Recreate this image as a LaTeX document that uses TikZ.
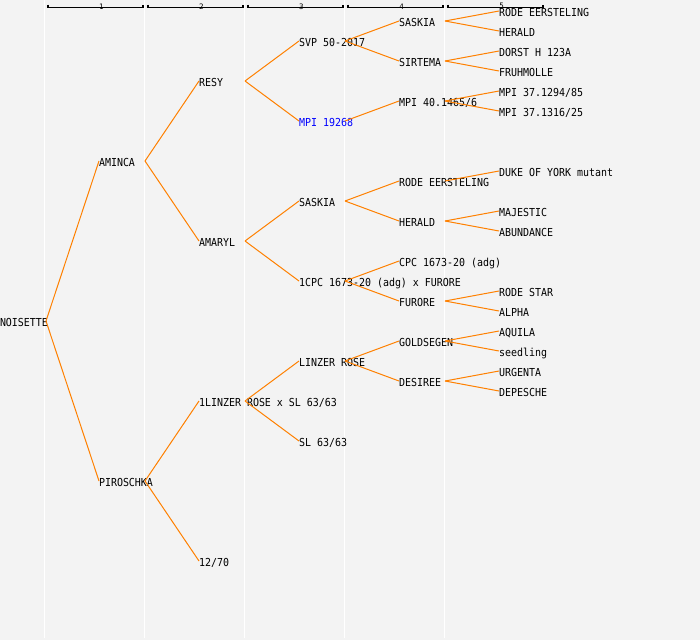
\documentclass[tikz,border=0pt]{standalone}
\usepackage{fontspec}
\newfontfamily\monof[FakeStretch=0.906]{DejaVu Sans Mono}
\newfontfamily\monosmall{DejaVu Sans Mono}
\definecolor{bgc}{RGB}{243,243,243}
\definecolor{edgec}{RGB}{255,128,0}
\definecolor{bluec}{RGB}{0,0,255}
\begin{document}
\begin{tikzpicture}[x=1pt,y=-1pt,
  person/.style={anchor=west,inner sep=0pt,outer sep=0pt,text height=10pt,text depth=0pt,font=\monof\fontsize{11}{13}\selectfont},
  edge/.style={draw=edgec,line width=1pt},
  sep/.style={draw=white,line width=1.3pt},
  bracket/.style={draw=black,line width=1.1pt},
  gen/.style={inner sep=0pt,font=\monosmall\fontsize{7.5}{8}\selectfont}]
\useasboundingbox (0,0) rectangle (700,640);
\fill[bgc] (0,0) rectangle (700,640);
% column separators
\foreach \i/\xx in {0/44.5,1/144.5,2/244.5,3/344.5,4/444.5}{
  \coordinate (st\i) at (\xx,0);
  \coordinate (sb\i) at (\xx,637.5);
  \draw[sep] (st\i) -- (sb\i);
}
% generation headers
\foreach \i in {1,...,5}{
  \coordinate (bl\i) at ({100*\i-52},4.5);
  \coordinate (br\i) at ({100*\i+43},4.5);
  \draw[bracket] (bl\i) |- ([yshift=-3pt]br\i) -- (br\i);
  \node[gen] (g\i) at ({100*\i+1.5},6.3) {\i};
}
% generation 0-2
\node[person] (n0) at (0,321) {NOISETTE};
\node[person] (amin) at (99,161) {AMINCA};
\node[person] (piro) at (99,481) {PIROSCHKA};
\node[person] (resy) at (199,81) {RESY};
\node[person] (amar) at (199,241) {AMARYL};
\node[person] (lxs) at (199,401) {1LINZER ROSE x SL 63/63};
\node[person] (s1270) at (199,561) {12/70};
% generation 3
\node[person] (svp) at (299,41) {SVP 50-2017};
\node[person,text=bluec] (mpi19) at (299,121) {MPI 19268};
\node[person] (sask3) at (299,201) {SASKIA};
\node[person] (cpcx) at (299,281) {1CPC 1673-20 (adg) x FURORE};
\node[person] (linz) at (299,361) {LINZER ROSE};
\node[person] (sl) at (299,441) {SL 63/63};
% generation 4
\node[person] (sask4) at (399,21) {SASKIA};
\node[person] (sirt) at (399,61) {SIRTEMA};
\node[person] (mpi40) at (399,101) {MPI 40.1465/6};
\node[person] (rode4) at (399,181) {RODE EERSTELING};
\node[person] (her4) at (399,221) {HERALD};
\node[person] (cpc4) at (399,261) {CPC 1673-20 (adg)};
\node[person] (fur4) at (399,301) {FURORE};
\node[person] (gold) at (399,341) {GOLDSEGEN};
\node[person] (desi) at (399,381) {DESIREE};
% generation 5
\node[person] (rode5) at (499,11) {RODE EERSTELING};
\node[person] (her5) at (499,31) {HERALD};
\node[person] (dorst) at (499,51) {DORST H 123A};
\node[person] (fruh) at (499,71) {FRUHMOLLE};
\node[person] (mpi85) at (499,91) {MPI 37.1294/85};
\node[person] (mpi25) at (499,111) {MPI 37.1316/25};
\node[person] (duke) at (499,171) {DUKE OF YORK mutant};
\node[person] (maj) at (499,211) {MAJESTIC};
\node[person] (abun) at (499,231) {ABUNDANCE};
\node[person] (rstar) at (499,291) {RODE STAR};
\node[person] (alpha) at (499,311) {ALPHA};
\node[person] (aqui) at (499,331) {AQUILA};
\node[person] (seed) at (499,351) {seedling};
\node[person] (urge) at (499,371) {URGENTA};
\node[person] (depe) at (499,391) {DEPESCHE};
% connectors
\foreach \a/\b in {n0/amin,n0/piro,amin/resy,amin/amar,piro/lxs,piro/s1270,
  resy/svp,resy/mpi19,amar/sask3,amar/cpcx,lxs/linz,lxs/sl,
  svp/sask4,svp/sirt,mpi19/mpi40,sask3/rode4,sask3/her4,cpcx/cpc4,cpcx/fur4,
  linz/gold,linz/desi,
  sask4/rode5,sask4/her5,sirt/dorst,sirt/fruh,mpi40/mpi85,mpi40/mpi25,
  rode4/duke,her4/maj,her4/abun,fur4/rstar,fur4/alpha,gold/aqui,gold/seed,
  desi/urge,desi/depe}{
  \draw[edge] ([xshift=46pt]\a.west) -- (\b.west);
}
\end{tikzpicture}
\end{document}
